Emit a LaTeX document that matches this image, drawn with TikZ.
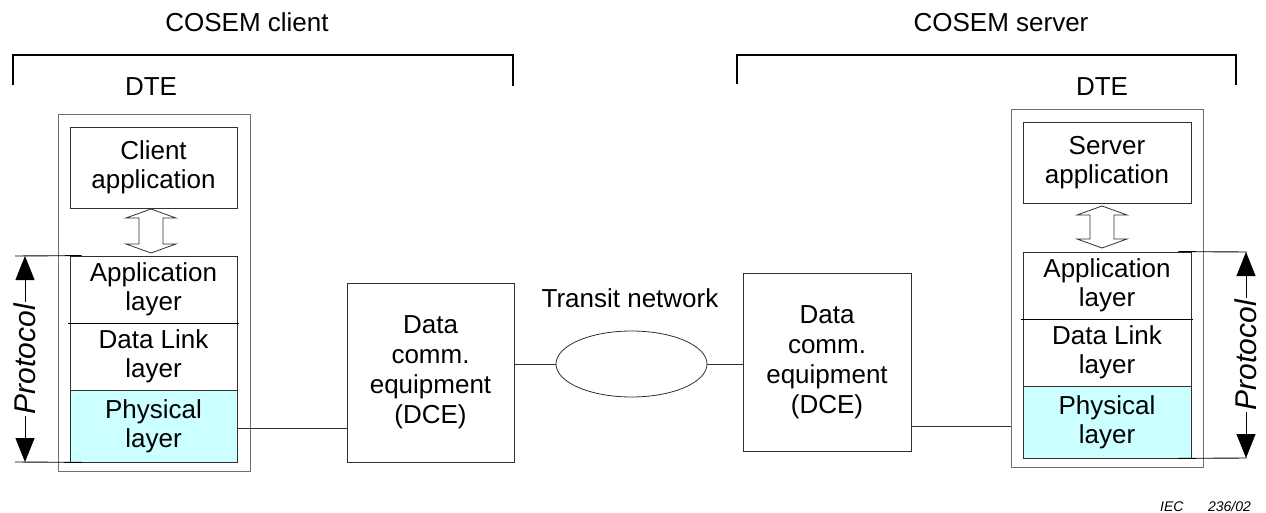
\documentclass[tikz,border=0pt]{standalone}
\usepackage{fontspec}
\setmainfont{Liberation Sans}
\usetikzlibrary{arrows.meta,shapes.geometric}
\definecolor{phycol}{HTML}{CCFFFF}
\definecolor{outergray}{HTML}{707070}
\definecolor{linegray}{HTML}{303030}
\begin{document}
\begin{tikzpicture}[x=1pt,y=-1pt,
  txt/.style={font=\fontsize{26}{30}\selectfont, inner sep=0pt},
  outerbox/.style={draw=outergray, line width=0.9pt, inner sep=0pt},
  layerbox/.style={draw=linegray, line width=0.8pt, inner sep=0pt, align=center,
     font=\fontsize{26}{29}\selectfont},
  physbox/.style={layerbox, fill=phycol},
  dcebox/.style={draw=linegray, line width=0.8pt, inner sep=0pt, align=center,
     font=\fontsize{26}{30}\selectfont},
  conn/.style={draw=linegray, line width=0.8pt},
  bracketline/.style={draw=black, line width=2pt},
  sepline/.style={draw=black, line width=1.4pt},
  protoline/.style={draw=black, line width=0.9pt},
  protoarrow/.style={draw=black, line width=0.9pt,
     {Triangle[length=24pt,width=19pt]}-{Triangle[length=24pt,width=19pt]}},
  prototext/.style={fill=white, inner xsep=2pt, inner ysep=0pt, rotate=90,
     font=\fontsize{30}{34}\selectfont\itshape},
  hollowarrow/.style={draw=linegray, line width=0.8pt, fill=white}
]
\useasboundingbox (0,0) rectangle (1266,513);

% ---- headings
\node[txt, anchor=base] (cosemc) at (247,32) {COSEM client};
\node[txt, anchor=base] (cosems) at (1001,32) {COSEM server};
\draw[bracketline] (13,85) -- (13,55) -- (513,55) -- (513,86);
\draw[bracketline] (737,84) -- (737,55) -- (1236,55) -- (1236,85);
\node[txt, anchor=base] (dtel) at (151,96) {DTE};
\node[txt, anchor=base] (dter) at (1102,96) {DTE};

% ---- left DTE
\node[outerbox, minimum width=192pt, minimum height=357pt] (outerL) at (154,292.5) {};
\node[layerbox, minimum width=167pt, minimum height=81pt] (clientapp) at (153.5,167.5) {Client\\application};
\node[layerbox, minimum width=167pt, minimum height=67pt] (appL) at (153.5,289.5) {Application\\layer};
\node[layerbox, minimum width=167pt, minimum height=67pt] (dllL) at (153.5,356.5) {Data Link\\layer};
\node[physbox, minimum width=167pt, minimum height=72pt] (phyL) at (153.5,426) {Physical\\layer};
\draw[sepline] ([xshift=-2pt]appL.south west) -- ([xshift=2pt]appL.south east);
\draw[hollowarrow] (151,209) -- (176,218) -- (163,218) -- (163,244) -- (176,244)
  -- (151,253) -- (126,244) -- (139,244) -- (139,218) -- (126,218) -- cycle;

% left protocol
\coordinate (pLt) at (25,256);
\coordinate (pLb) at (25,462);
\draw[protoline] ([xshift=-10pt]pLt) -- ([xshift=12pt]appL.north west);
\draw[protoline] ([xshift=-10pt]pLb) -- ([xshift=12pt]phyL.south west);
\draw[protoarrow] (pLt) -- (pLb) node[midway, prototext] (protoL) {Protocol};

% ---- right DTE
\node[outerbox, minimum width=192pt, minimum height=358pt] (outerR) at (1107,288) {};
\node[layerbox, minimum width=168pt, minimum height=81pt] (serverapp) at (1107,162.5) {Server\\application};
\node[layerbox, minimum width=168pt, minimum height=67pt] (appR) at (1107,285.5) {Application\\layer};
\node[layerbox, minimum width=168pt, minimum height=67pt] (dllR) at (1107,352.5) {Data Link\\layer};
\node[physbox, minimum width=168pt, minimum height=72pt] (phyR) at (1107,422) {Physical\\layer};
\draw[sepline] ([xshift=-2pt]appR.south west) -- ([xshift=2pt]appR.south east);
\draw[hollowarrow] (1102,206) -- (1127,215) -- (1114,215) -- (1114,239) -- (1127,239)
  -- (1102,248) -- (1077,239) -- (1090,239) -- (1090,215) -- (1077,215) -- cycle;

% right protocol
\coordinate (pRt) at (1246,252);
\coordinate (pRb) at (1246,458);
\draw[protoline] ([xshift=-13pt]appR.north east) -- ([xshift=1pt]pRt);
\draw[protoline] ([xshift=-13pt]phyR.south east) -- ([xshift=1pt]pRb);
\draw[protoarrow] (pRt) -- (pRb) node[midway, prototext] (protoR) {Protocol};

% ---- DCEs and network
\node[dcebox, minimum width=167pt, minimum height=179pt] (dceL) at (430.5,372.5) {Data\\comm.\\equipment\\(DCE)};
\node[dcebox, minimum width=168pt, minimum height=178pt] (dceR) at (827,362) {Data\\comm.\\equipment\\(DCE)};
\node[draw=linegray, line width=0.8pt, ellipse, minimum width=151pt, minimum height=66pt, inner sep=0pt] (net) at (631.5,364) {};
\node[txt, anchor=base] (netlabel) at (630,307) {Transit network};

% ---- connectors
\draw[conn] ([yshift=-2pt]phyL.east) -- ([yshift=-2pt]phyL.east -| dceL.west);
\draw[conn] (net.west) -- (net.west -| dceL.east);
\draw[conn] (net.east) -- (net.east -| dceR.west);
\draw[conn] ([yshift=-64pt]dceR.east) -- ([yshift=-64pt]dceR.east -| outerR.west);

% ---- figure reference
\node[inner sep=0pt, anchor=base west, font=\fontsize{14}{16}\selectfont\itshape] (iec) at (1160,511) {IEC\hspace{24.5pt}236/02};
\end{tikzpicture}
\end{document}
